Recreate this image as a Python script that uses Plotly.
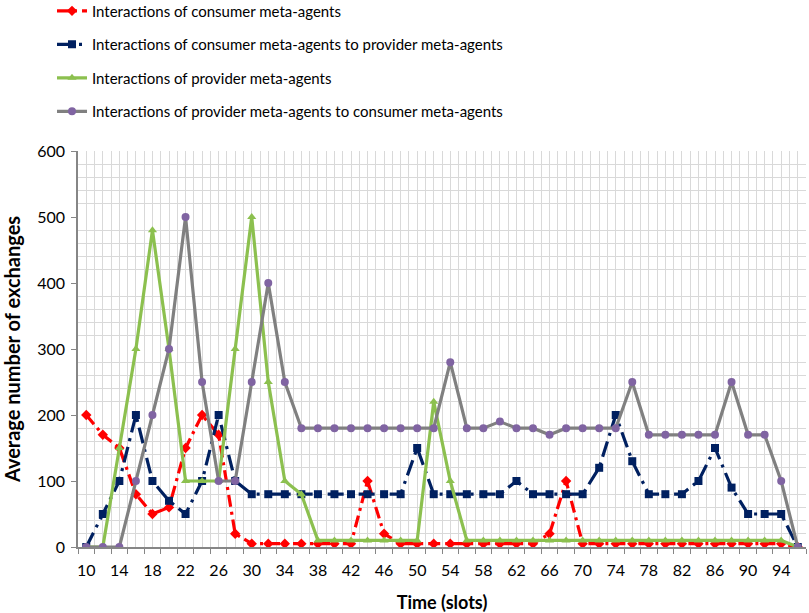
import plotly.graph_objects as go

slots = list(range(10, 97, 2))

consumer = [200, 170, 150, 80, 50, 60, 150, 200, 170, 20, 5, 5, 5, 5, 5, 5, 5, 100, 20, 5, 5, 5,
            5, 5, 5, 5, 5, 5, 20, 100, 5, 5, 5, 5, 5, 5, 5, 5, 5, 5, 5, 5, 5, 0]
consumer_to_provider = [0, 50, 100, 200, 100, 70, 50, 100, 200, 100, 80, 80, 80, 80, 80, 80, 80, 80, 80, 80, 150, 80,
                        80, 80, 80, 80, 100, 80, 80, 80, 80, 120, 200, 130, 80, 80, 80, 100, 150, 90, 50, 50, 50, 0]
provider = [0, 0, 150, 300, 480, 300, 100, 100, 100, 300, 500, 250, 100, 80, 10, 10, 10, 10, 10, 10, 10, 220,
            100, 10, 10, 10, 10, 10, 10, 10, 10, 10, 10, 10, 10, 10, 10, 10, 10, 10, 10, 10, 10, 0]
provider_to_consumer = [0, 0, 0, 100, 200, 300, 500, 250, 100, 100, 250, 400, 250, 180, 180, 180, 180, 180, 180, 180, 180, 180,
                        280, 180, 180, 190, 180, 180, 170, 180, 180, 180, 180, 250, 170, 170, 170, 170, 170, 250, 170, 170, 100, 0]

names = ["Interactions of consumer meta-agents",
         "Interactions of consumer meta-agents to provider meta-agents",
         "Interactions of provider meta-agents",
         "Interactions of provider meta-agents to consumer meta-agents"]

labelled_slots = list(range(10, 95, 4))

FONT = "Lato"

fig = go.Figure()
fig.add_trace(go.Scatter(x=slots, y=consumer, name=names[0], mode="lines+markers", legendgroup="a",
                         line=dict(color="#FF0000", width=3.2, dash="12px,5px,3px,5px"),
                         marker=dict(symbol="diamond", size=8, color="#FF0000")))
fig.add_trace(go.Scatter(x=slots, y=consumer_to_provider, name=names[1], mode="lines+markers", legendgroup="b",
                         line=dict(color="#002060", width=3.2, dash="16px,6px,3px,6px"),
                         marker=dict(symbol="square", size=8, color="#002060")))
fig.add_trace(go.Scatter(x=slots, y=provider, name=names[2], mode="lines+markers", legendgroup="c",
                         line=dict(color="#8CC04F", width=3.2),
                         marker=dict(symbol="triangle-up", size=8, color="#8CC04F")))
fig.add_trace(go.Scatter(x=slots, y=provider_to_consumer, name=names[3], mode="lines+markers", legendgroup="d",
                         line=dict(color="#808080", width=3.2),
                         marker=dict(symbol="circle", size=8, color="#8064A2")))

grid_vals = list(range(9, 98))
grid_text = [str(v) if v in labelled_slots else "" for v in grid_vals]

fig.update_layout(
    width=809, height=613,
    margin=dict(l=78, r=3, t=151, b=66, autoexpand=False),
    paper_bgcolor="white", plot_bgcolor="white",
    font=dict(family=FONT, size=16, color="black"),
    showlegend=True,
    legend=dict(x=-0.0357, xanchor="left", y=1.395, yanchor="top",
                font=dict(family=FONT, size=15, color="black"),
                tracegroupgap=11, traceorder="grouped", itemwidth=30,
                bgcolor="rgba(0,0,0,0)"),
    xaxis=dict(range=[9, 97], tickmode="array", tickvals=grid_vals, ticktext=grid_text,
               showgrid=True, gridcolor="#D9D9D9", gridwidth=1, ticks="",
               showline=True, linecolor="#868686", linewidth=1.5, zeroline=False,
               tickfont=dict(family=FONT, size=16), ticklabelstandoff=8,
               minor=dict(tickmode="linear", tick0=9, dtick=2, ticks="outside", ticklen=5,
                          tickcolor="#868686", showgrid=False),
               title=dict(text="<b>Time (slots)</b>", font=dict(family=FONT, size=18), standoff=19)),
    yaxis=dict(range=[0, 600], tickmode="linear", tick0=0, dtick=100,
               showgrid=False, ticks="outside", ticklen=5, tickcolor="#868686",
               showline=True, linecolor="#868686", linewidth=1.5, zeroline=False,
               tickfont=dict(family=FONT, size=16), ticklabelstandoff=3,
               minor=dict(tickmode="linear", tick0=0, dtick=20, showgrid=True, gridcolor="#D9D9D9", ticks=""),
               title=dict(text="<b>Average number of exchanges</b>", font=dict(family=FONT, size=20), standoff=14)),
)

fig.write_html("out.html", config={"displayModeBar": False},
               post_script="document.body.style.margin='0';")
